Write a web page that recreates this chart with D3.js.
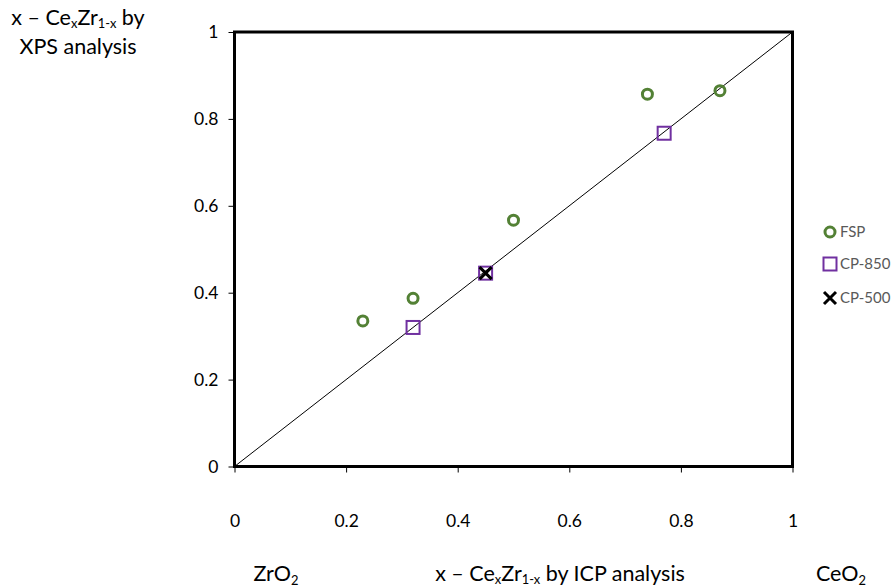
<!DOCTYPE html>
<html>
<head>
<meta charset="utf-8">
<script src="https://cdn.jsdelivr.net/npm/d3@7"></script>
<style>
  html, body { margin: 0; padding: 0; background: #fff; }
  svg text { font-family: Lato, "Open Sans", "Liberation Sans", sans-serif; }
</style>
</head>
<body>
<svg id="chart" width="895" height="588"></svg>
<script>
// Ce fraction x in CexZr1-x: ICP (x axis) vs XPS (y axis)
const fspICP = [0.23, 0.32, 0.50, 0.74, 0.87];
const fspXPS = [0.335, 0.387, 0.567, 0.857, 0.865];
const cp850ICP = [0.32, 0.45, 0.77];
const cp850XPS = [0.32, 0.445, 0.767];
const cp500ICP = [0.45];
const cp500XPS = [0.445];
const tickValues = [0, 0.2, 0.4, 0.6, 0.8, 1];
const seriesNames = ["FSP", "CP-850", "CP-500"];

const svg = d3.select("#chart");
const plotLeft = 234.5, plotRight = 792.5, plotTop = 32, plotBottom = 466.5;

const x = d3.scaleLinear().domain([0, 1]).range([plotLeft, plotRight]);
const y = d3.scaleLinear().domain([0, 1]).range([plotBottom, plotTop]);
const fmt = d => (d === 0 || d === 1) ? String(d) : d.toFixed(1);

// y = x parity line
svg.append("line")
  .attr("x1", x(0)).attr("y1", y(0))
  .attr("x2", x(1)).attr("y2", y(1))
  .attr("stroke", "#000").attr("stroke-width", 1);

// frame
svg.append("rect")
  .attr("x", plotLeft).attr("y", plotTop)
  .attr("width", plotRight - plotLeft).attr("height", plotBottom - plotTop)
  .attr("fill", "none").attr("stroke", "#000").attr("stroke-width", 3);

// axes
const yAxis = svg.append("g")
  .attr("transform", `translate(${plotLeft},0)`)
  .call(d3.axisLeft(y).tickValues(tickValues).tickFormat(fmt).tickSize(6).tickPadding(10));
yAxis.select(".domain").remove();
yAxis.selectAll("text").attr("font-size", 17.5).attr("fill", "#000");

const xAxis = svg.append("g")
  .attr("transform", `translate(0,${plotBottom})`)
  .call(d3.axisBottom(x).tickValues(tickValues).tickFormat(fmt).tickSize(6).tickPadding(42));
xAxis.select(".domain").remove();
xAxis.selectAll("text").attr("font-size", 17.5).attr("fill", "#000");

// markers
const green = "#538135", purple = "#7030a0";
function circleMark(g, cx, cy) {
  g.append("circle").attr("cx", cx).attr("cy", cy).attr("r", 5)
    .attr("fill", "none").attr("stroke", green).attr("stroke-width", 3);
}
function squareMark(g, cx, cy) {
  g.append("rect").attr("x", cx - 6.5).attr("y", cy - 6.5).attr("width", 13).attr("height", 13)
    .attr("fill", "none").attr("stroke", purple).attr("stroke-width", 2);
}
function crossMark(g, cx, cy) {
  const s = 6;
  g.append("path").attr("d", `M${cx - s},${cy - s}L${cx + s},${cy + s}M${cx - s},${cy + s}L${cx + s},${cy - s}`)
    .attr("stroke", "#000").attr("stroke-width", 3).attr("fill", "none");
}

const marks = svg.append("g");
fspICP.forEach((v, i) => circleMark(marks, x(v), y(fspXPS[i])));
cp850ICP.forEach((v, i) => squareMark(marks, x(v), y(cp850XPS[i])));
cp500ICP.forEach((v, i) => crossMark(marks, x(v), y(cp500XPS[i])));

// legend
const drawers = [circleMark, squareMark, crossMark];
const legendY = [232, 264, 298];
seriesNames.forEach((name, i) => {
  const g = svg.append("g");
  drawers[i](g, 830, legendY[i]);
  g.append("text").attr("x", 840).attr("y", legendY[i]).attr("dy", "0.35em")
    .attr("font-size", 15).attr("fill", "#595959").text(name);
});

// axis titles
function formulaTitle(t, before, after) {
  t.append("tspan").text(before + "Ce");
  t.append("tspan").attr("font-size", "0.6em").attr("dy", 3).text("x");
  t.append("tspan").attr("dy", -3).text("Zr");
  t.append("tspan").attr("font-size", "0.6em").attr("dy", 3).text("1-x");
  t.append("tspan").attr("dy", -3).text(after);
}
const titleSize = 21.5;
const yt1 = svg.append("text").attr("x", 78).attr("y", 25).attr("text-anchor", "middle").attr("font-size", titleSize);
formulaTitle(yt1, "x – ", " by");
svg.append("text").attr("x", 78).attr("y", 54).attr("text-anchor", "middle").attr("font-size", titleSize).text("XPS analysis");

const xt = svg.append("text").attr("x", 560).attr("y", 581).attr("text-anchor", "middle").attr("font-size", titleSize);
formulaTitle(xt, "x – ", " by ICP analysis");

function oxide(xc, name) {
  const t = svg.append("text").attr("x", xc).attr("y", 581).attr("text-anchor", "middle").attr("font-size", titleSize);
  t.append("tspan").text(name + "O");
  t.append("tspan").attr("font-size", "0.6em").attr("dy", 4).text("2");
}
oxide(276, "Zr");
oxide(841, "Ce");
</script>
</body>
</html>
